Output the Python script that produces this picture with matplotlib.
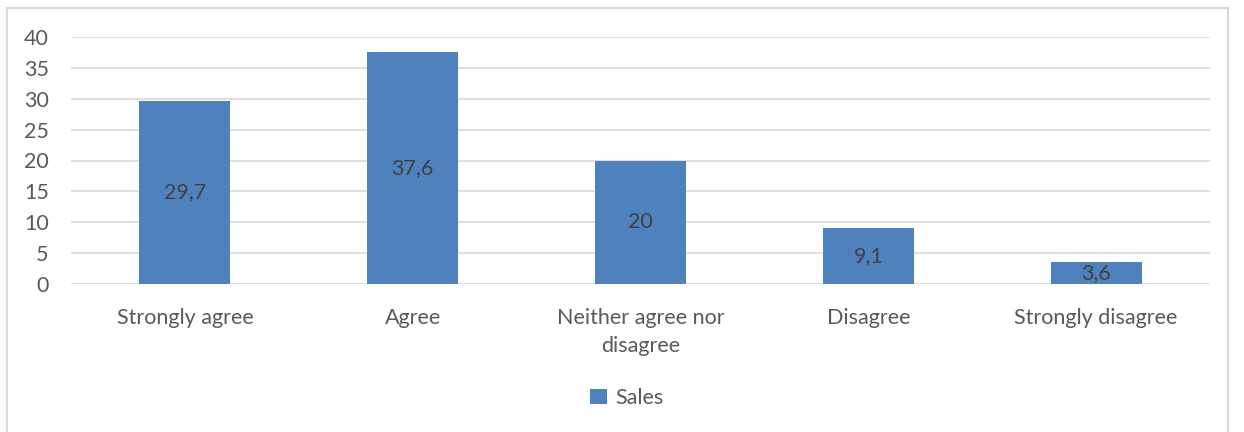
import matplotlib
matplotlib.use("Agg")
import matplotlib.pyplot as plt
from matplotlib.patches import Rectangle

categories = ["Strongly agree", "Agree", "Neither agree nor\ndisagree", "Disagree", "Strongly disagree"]
sales = [29.7, 37.6, 20, 9.1, 3.6]
value_labels = ["29,7", "37,6", "20", "9,1", "3,6"]
yticks = [0, 5, 10, 15, 20, 25, 30, 35, 40]

bar_color = "#4F81BD"
text_color = "#595959"
grid_color = "#D9D9D9"
fs = 15.5

plt.rcParams["font.family"] = ["Lato", "DejaVu Sans"]

fig = plt.figure(figsize=(12.44, 4.32), dpi=100)
fig.patches.append(Rectangle((7 / 1244, -0.01), (1228 - 7) / 1244, (432 - 8) / 432 + 0.01,
                             transform=fig.transFigure, fill=False,
                             edgecolor=grid_color, linewidth=1.5))

ax = fig.add_axes([71 / 1244, 148 / 432, (1210 - 71) / 1244, (284 - 37) / 432])
x = range(len(categories))
bars = ax.bar(x, sales, width=0.4, color=bar_color, label="Sales", zorder=3)

for rect, lab in zip(bars, value_labels):
    ax.text(rect.get_x() + rect.get_width() / 2, rect.get_height() / 2, lab,
            ha="center", va="center", fontsize=fs, color="#404040", zorder=4)

ax.set_xlim(-0.5, len(categories) - 0.5)
ax.set_ylim(0, 40)
ax.set_yticks(yticks)
ax.set_xticks(list(x))
ax.set_xticklabels(categories, linespacing=1.55)
ax.tick_params(axis="both", length=0, labelsize=fs, labelcolor=text_color)
ax.tick_params(axis="x", pad=17)
ax.tick_params(axis="y", pad=16)
ax.grid(axis="y", color=grid_color, linewidth=1.2, zorder=0)
for s in ax.spines.values():
    s.set_visible(False)

fig.legend(handles=[bars], labels=["Sales"], loc="center", bbox_to_anchor=(627 / 1244, 1 - 398 / 432),
           frameon=False, fontsize=fs, labelcolor=text_color, handlelength=0.75, handleheight=0.75,
           handletextpad=0.4)

fig.savefig("out.png", dpi=100)
